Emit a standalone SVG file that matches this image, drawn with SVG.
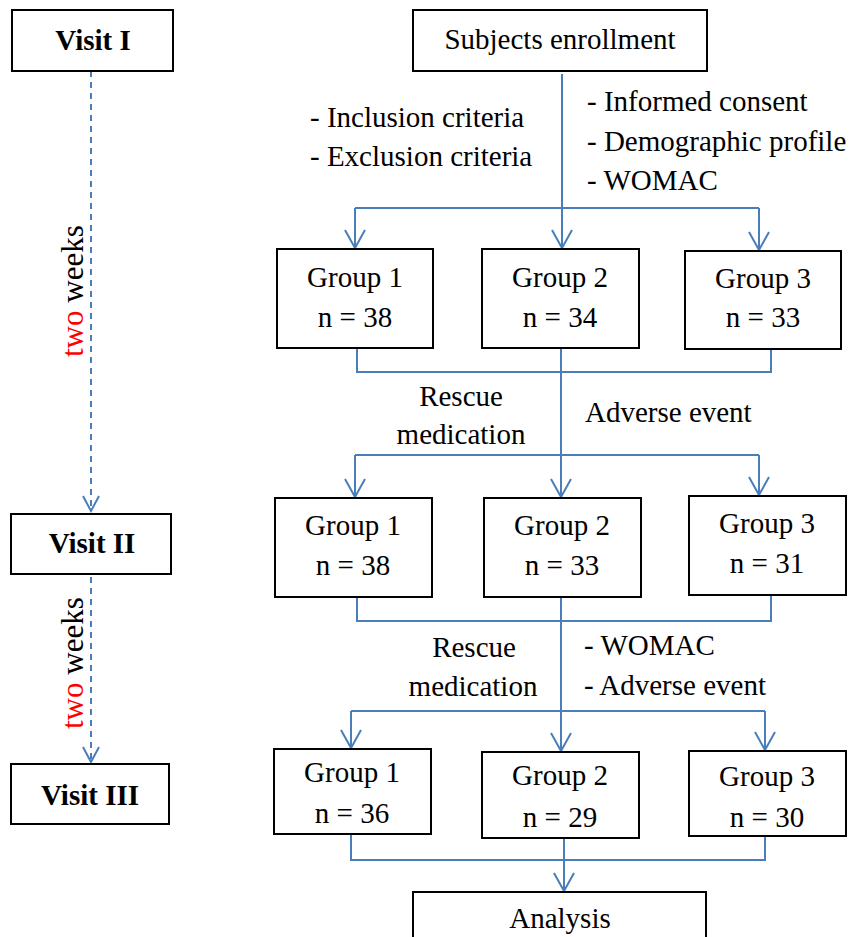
<svg xmlns="http://www.w3.org/2000/svg" width="849" height="937" viewBox="0 0 849 937">
<style>
.box{fill:#fff;stroke:#000;stroke-width:2}
.t{font-family:"Liberation Serif","Times New Roman",serif;font-size:29px;fill:#000}
.c{text-anchor:middle}
.b{font-weight:bold}
.ln{fill:none;stroke:#4A7EBB;stroke-width:2}
.dash{fill:none;stroke:#4A7EBB;stroke-width:2;stroke-dasharray:6,5}
</style>
<defs>
<marker id="arr" viewBox="-21 -12 23 24" refX="0" refY="0" markerWidth="23" markerHeight="24" markerUnits="userSpaceOnUse" orient="auto">
<path d="M-18,-10 L0,0 L-18,10" fill="none" stroke="#4A7EBB" stroke-width="2"/>
</marker>
<marker id="arrs" viewBox="-18 -10 20 20" refX="0" refY="0" markerWidth="20" markerHeight="20" markerUnits="userSpaceOnUse" orient="auto">
<path d="M-15,-8 L0,0 L-15,8" fill="none" stroke="#4A7EBB" stroke-width="2"/>
</marker>
</defs>
<rect width="849" height="937" fill="#fff"/>
<g id="connectors">
<path class="dash" d="M91,71 V511" marker-end="url(#arrs)"/>
<path class="dash" d="M91,577 V762" marker-end="url(#arrs)"/>
<path class="ln" d="M562,74 V248" marker-end="url(#arr)"/>
<path class="ln" d="M355,208 H759"/>
<path class="ln" d="M355,208 V248" marker-end="url(#arr)"/>
<path class="ln" d="M759,208 V250" marker-end="url(#arr)"/>
<path class="ln" d="M357,348 V372 H771 V349"/>
<path class="ln" d="M561,348 V497" marker-end="url(#arr)"/>
<path class="ln" d="M355,455 H759"/>
<path class="ln" d="M355,455 V497" marker-end="url(#arr)"/>
<path class="ln" d="M759,455 V495" marker-end="url(#arr)"/>
<path class="ln" d="M357,597 V621 H771 V595"/>
<path class="ln" d="M561,597 V751" marker-end="url(#arr)"/>
<path class="ln" d="M351,711 H765"/>
<path class="ln" d="M351,711 V748" marker-end="url(#arr)"/>
<path class="ln" d="M765,711 V750" marker-end="url(#arr)"/>
<path class="ln" d="M351,834 V860 H765 V836"/>
<path class="ln" d="M564,838 V891" marker-end="url(#arr)"/>
</g>
<g id="visit1"><rect class="box" x="12" y="10" width="161" height="61"/><text class="t c b" x="93" y="50">Visit I</text></g>
<g id="visit2"><rect class="box" x="11" y="514" width="160" height="60"/><text class="t c b" x="92" y="553">Visit II</text></g>
<g id="visit3"><rect class="box" x="11" y="764" width="158" height="60"/><text class="t c b" x="90" y="805">Visit III</text></g>
<g id="lbl-weeks1"><text class="t" style="font-size:31px" transform="translate(83,357) rotate(-90)"><tspan fill="#FF0000">two</tspan> weeks</text></g>
<g id="lbl-weeks2"><text class="t" style="font-size:31px" transform="translate(83,729) rotate(-90)"><tspan fill="#FF0000">two</tspan> weeks</text></g>
<g id="enroll"><rect class="box" x="413" y="10" width="294" height="61"/><text class="t c" x="560" y="49">Subjects enrollment</text></g>
<g id="lbl-criteria"><text class="t" x="310" y="127">- Inclusion criteria</text><text class="t" x="310" y="166">- Exclusion criteria</text></g>
<g id="lbl-consent"><text class="t" x="587" y="111">- Informed consent</text><text class="t" x="587" y="151">- Demographic profile</text><text class="t" x="587" y="190">- WOMAC</text></g>
<g id="r1g1"><rect class="box" x="277" y="249" width="156" height="99"/><text class="t c" x="355" y="287">Group 1</text><text class="t c" x="355" y="327">n = 38</text></g>
<g id="r1g2"><rect class="box" x="482" y="249" width="157" height="99"/><text class="t c" x="560" y="287">Group 2</text><text class="t c" x="560" y="327">n = 34</text></g>
<g id="r1g3"><rect class="box" x="685" y="251" width="156" height="98"/><text class="t c" x="763" y="288">Group 3</text><text class="t c" x="763" y="327">n = 33</text></g>
<g id="lbl-r1"><text class="t c" x="461" y="406">Rescue</text><text class="t c" x="461" y="444">medication</text><text class="t" x="585" y="422">Adverse event</text></g>
<g id="r2g1"><rect class="box" x="275" y="498" width="157" height="99"/><text class="t c" x="353" y="535">Group 1</text><text class="t c" x="353" y="575">n = 38</text></g>
<g id="r2g2"><rect class="box" x="484" y="498" width="157" height="99"/><text class="t c" x="562" y="535">Group 2</text><text class="t c" x="562" y="575">n = 33</text></g>
<g id="r2g3"><rect class="box" x="689" y="496" width="157" height="99"/><text class="t c" x="767" y="533">Group 3</text><text class="t c" x="767" y="573">n = 31</text></g>
<g id="lbl-r2"><text class="t c" x="474" y="657">Rescue</text><text class="t c" x="473" y="696">medication</text><text class="t" x="584" y="655">- WOMAC</text><text class="t" x="584" y="695">- Adverse event</text></g>
<g id="r3g1"><rect class="box" x="274" y="749" width="157" height="85"/><text class="t c" x="352" y="782">Group 1</text><text class="t c" x="352" y="823">n = 36</text></g>
<g id="r3g2"><rect class="box" x="482" y="752" width="157" height="86"/><text class="t c" x="560" y="785">Group 2</text><text class="t c" x="560" y="827">n = 29</text></g>
<g id="r3g3"><rect class="box" x="689" y="751" width="157" height="85"/><text class="t c" x="767" y="786">Group 3</text><text class="t c" x="767" y="827">n = 30</text></g>
<g id="analysis"><rect class="box" x="413" y="892" width="293" height="70"/><text class="t c" x="560" y="928">Analysis</text></g>
</svg>
